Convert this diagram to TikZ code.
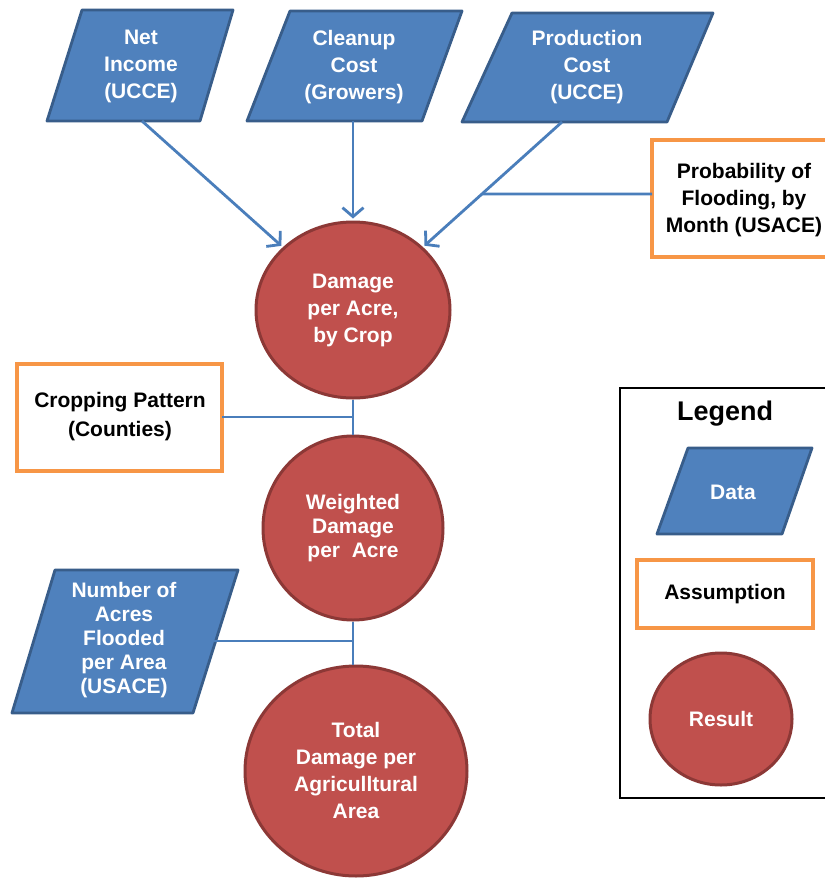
\documentclass[tikz,border=0pt]{standalone}
\usepackage{fontspec}
\setmainfont{Liberation Sans}
\usetikzlibrary{arrows.meta,shapes.geometric}
\definecolor{dblue}{HTML}{4F81BD}
\definecolor{dblueb}{HTML}{385D8A}
\definecolor{rred}{HTML}{C0504D}
\definecolor{rredb}{HTML}{8C3836}
\definecolor{oorange}{HTML}{F79646}
\definecolor{lblue}{HTML}{4A7EBB}
\tikzset{
  datashape/.style={fill=dblue,draw=dblueb,line width=2.8pt,line join=round},
  assumbox/.style={fill=white,draw=oorange,line width=3.5pt},
  resultshape/.style={ellipse,fill=rred,draw=rredb,line width=3pt,inner sep=0pt},
  wtxt/.style={text=white,align=center,font=\bfseries\fontsize{21}{27}\selectfont,inner sep=0pt},
  btxt/.style={text=black,align=center,font=\bfseries\fontsize{21}{27}\selectfont,inner sep=0pt},
  conn/.style={draw=lblue,line width=2.8pt},
  arr/.style={conn,-{Straight Barb[length=9pt,width=21pt]},shorten >=2pt},
}
\begin{document}
\begin{tikzpicture}[x=1pt,y=-1pt]
\clip (0,0) rectangle (825,879);
\fill[white] (0,0) rectangle (825,879);

% data parallelograms (top)
\draw[datashape] (82,10) -- (233,10) -- (200,121) -- (47,121) -- cycle;
\node[wtxt] (ni) at (141,66) {Net\\Income\\(UCCE)};
\coordinate (nib) at (142,121);

\draw[datashape] (290,11) -- (462,11) -- (422,121) -- (247,121) -- cycle;
\node[wtxt] (cc) at (354,67) {Cleanup\\Cost\\(Growers)};
\coordinate (ccb) at (353,121);

\draw[datashape] (512,13) -- (713,13) -- (667,122) -- (462,122) -- cycle;
\node[wtxt] (pc) at (587,67) {Production\\Cost\\(UCCE)};
\coordinate (pcb) at (562,122);

% probability box
\draw[assumbox] (652,140) rectangle (835,257);
\coordinate (probw) at (652,194);
\coordinate (probe) at (835,194);
\node[btxt] (prob) at (744,200) {Probability of\\Flooding, by\\Month (USACE)};

% result circles
\node[resultshape,minimum width=194pt,minimum height=176pt] (dmg) at (353,310) {};
\node[wtxt] at (dmg.center) {Damage\\per Acre,\\by Crop};

\node[resultshape,minimum width=180pt,minimum height=184pt] (wdm) at (353,528) {};
\node[wtxt,font=\bfseries\fontsize{21}{24}\selectfont] at (wdm.center) {Weighted\\Damage\\per~ Acre};

\node[resultshape,minimum width=222pt,minimum height=210pt] (tot) at (356,771) {};
\node[wtxt] at ([yshift=1pt]tot.center) {Total\\Damage per\\Agriculltural\\Area};

% cropping pattern
\draw[assumbox] (17,364) rectangle (222,471);
\coordinate (crope) at (222,417);
\node[btxt,font=\bfseries\fontsize{21}{29}\selectfont] (crop) at (120,417) {Cropping Pattern\\(Counties)};

% number of acres
\draw[datashape] (55,570) -- (238,570) -- (193,713) -- (12,713) -- cycle;
\coordinate (acre) at (214,641);
\node[wtxt,font=\bfseries\fontsize{21}{24}\selectfont] (acres) at (124,640) {Number of\\Acres\\Flooded\\per Area\\(USACE)};

% connectors
\draw[arr] (nib) -- (dmg);
\draw[arr] (ccb) -- (dmg);
\draw[arr] (pcb) -- (dmg);
\coordinate (j1) at (intersection of pcb--dmg and probw--probe);
\draw[conn] (probw) -- (j1);
\draw[conn] (dmg.south) -- (wdm.north);
\draw[conn] (crope) -- (crope -| dmg.south);
\draw[conn] (wdm.south) -- (wdm.south |- tot.north);
\draw[conn] (acre) -- (acre -| wdm.south);

% legend
\draw[black,line width=2.8pt] (620,388) rectangle (840,798);
\node[btxt,font=\bfseries\fontsize{27}{30}\selectfont] (leg) at (725,414) {Legend};
\draw[datashape] (688,448) -- (812,448) -- (782,534) -- (657,534) -- cycle;
\node[wtxt] (ldata) at (733,492) {Data};
\draw[assumbox] (637,560) rectangle (813,628);
\node[btxt] (lass) at (725,594) {Assumption};
\node[resultshape,minimum width=142pt,minimum height=132pt] (lres) at (721,719) {};
\node[wtxt] at (lres.center) {Result};
\end{tikzpicture}
\end{document}
